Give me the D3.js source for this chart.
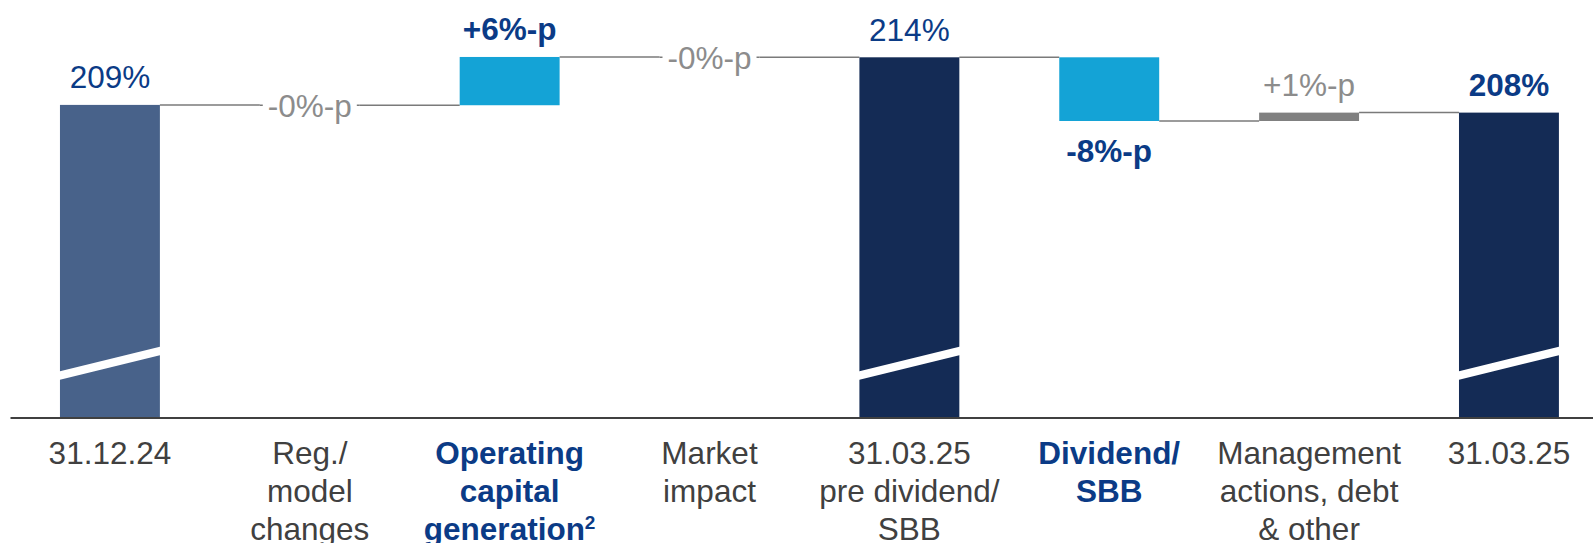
<!DOCTYPE html>
<html>
<head>
<meta charset="utf-8">
<script src="https://cdn.jsdelivr.net/npm/d3@7"></script>
<style>
  html, body { margin: 0; padding: 0; background: #ffffff; overflow: hidden; }
  svg text { font-family: "Liberation Sans", Arial, Helvetica, sans-serif; }
</style>
</head>
<body>
<svg id="chart" width="1593" height="543"></svg>
<script>
// ---- Data: solvency ratio walk (in %, changes in %-points) ----
// Line breaks in a category are marked with "\n", a superscript with "^".
const categories = [
  "31.12.24",
  "Reg./\nmodel\nchanges",
  "Operating\ncapital\ngeneration^2",
  "Market\nimpact",
  "31.03.25\npre dividend/\nSBB",
  "Dividend/\nSBB",
  "Management\nactions, debt\n& other",
  "31.03.25"
];
const stepTypes = ["total", "delta", "delta", "delta", "total", "delta", "delta", "total"];
const stepValues = [208.7, -0.04, 5.76, -0.04, 214.38, -7.6, 1.0, 207.78];
// value at which the (broken) vertical axis starts
const axisStartValue = 171.4;

// ---- Styling ----
const NAVY_TEXT = "#0B3B86";
const GREY_TEXT = "#8C8C8C";
const AXIS_TEXT = "#404040";
const barFills = ["#48628A", null, "#14A3D6", null, "#142B55", "#14A3D6", "#808080", "#142B55"];
const valueBold = [false, false, true, false, false, true, false, true];
const valueColor = [NAVY_TEXT, GREY_TEXT, NAVY_TEXT, GREY_TEXT, NAVY_TEXT, NAVY_TEXT, GREY_TEXT, NAVY_TEXT];
const categoryBold = [false, false, true, false, false, true, false, false];
const FONT_SIZE = 31.5;

const svg = d3.select("#chart");

// ---- Scales ----
const x = d3.scaleBand()
  .domain(categories)
  .range([10, 10 + 8 * 199.86])
  .paddingInner(0.5)
  .paddingOuter(0.25);
const bw = x.bandwidth();

const y = d3.scaleLinear()
  .domain([axisStartValue, 214.38])
  .range([417.5, 57.3]);

// ---- Running totals -> bar extents ----
let level = 0;
const steps = categories.map((c, i) => {
  let lo, hi, after;
  if (stepTypes[i] === "total") {
    lo = axisStartValue; hi = stepValues[i]; after = stepValues[i];
  } else {
    const from = level, to = level + stepValues[i];
    lo = Math.min(from, to); hi = Math.max(from, to); after = to;
  }
  level = after;
  return { cat: c, i, type: stepTypes[i], value: stepValues[i], lo, hi, after, fill: barFills[i] };
});

// ---- Connector lines ----
const gLines = svg.append("g")
  .attr("stroke", "#7A7A7A")
  .attr("stroke-width", 1.5)
  .attr("fill", "none");
steps.forEach((s, i) => {
  if (i < steps.length - 1) {
    gLines.append("line")
      .attr("x1", x(s.cat) + bw).attr("x2", x(steps[i + 1].cat))
      .attr("y1", y(s.after)).attr("y2", y(s.after));
  }
  if (!s.fill) {
    // change too small for a bar: the line runs through the slot
    gLines.append("line")
      .attr("x1", x(s.cat)).attr("x2", x(s.cat) + bw)
      .attr("y1", y(s.after)).attr("y2", y(s.after));
  }
});

// ---- Bars ----
svg.append("g").selectAll("rect")
  .data(steps.filter(s => s.fill))
  .join("rect")
  .attr("x", d => x(d.cat))
  .attr("width", bw)
  .attr("y", d => y(d.hi))
  .attr("height", d => y(d.lo) - y(d.hi))
  .attr("fill", d => d.fill);

// ---- Axis-break bands on the total bars ----
const yb = y(axisStartValue);
svg.append("g").selectAll("polygon")
  .data(steps.filter(s => s.type === "total"))
  .join("polygon")
  .attr("fill", "#ffffff")
  .attr("points", d => {
    const x0 = x(d.cat) - 1, x1 = x(d.cat) + bw + 1;
    return [[x0, yb - 46], [x1, yb - 71], [x1, yb - 62.5], [x0, yb - 37.5]].join(" ");
  });

// ---- Category axis ----
const gAxis = svg.append("g")
  .attr("transform", `translate(0,${yb})`)
  .call(d3.axisBottom(x).tickSize(0).tickSizeOuter(0));
gAxis.attr("font-size", null).attr("font-family", null);
gAxis.select(".domain").attr("stroke", "#404040").attr("stroke-width", 2);
gAxis.selectAll(".tick text").each(function (d, i) {
  const t = d3.select(this)
    .attr("y", null).attr("dy", null)
    .attr("font-size", FONT_SIZE)
    .attr("font-weight", categoryBold[i] ? "bold" : "normal")
    .attr("fill", categoryBold[i] ? NAVY_TEXT : AXIS_TEXT)
    .text(null);
  d.split("\n").forEach((line, k) => {
    const parts = line.split("^");
    const ts = t.append("tspan").attr("x", 0).attr("y", 46.5 + k * 38).text(parts[0]);
    if (parts[1]) {
      ts.append("tspan").attr("font-size", 19).attr("dy", -11).text(parts[1]);
    }
  });
});

// ---- Value labels ----
const fmt = s => {
  if (s.type === "total") return Math.round(s.value) + "%";
  const r = Math.abs(Math.round(s.value));
  return (s.value < 0 ? "-" : "+") + r + "%-p";
};
const gLabels = svg.append("g");
steps.forEach((s, i) => {
  let ly;
  if (s.type === "total") ly = y(s.hi) - 16.5;
  else if (!s.fill) ly = y(s.after) + 11.5;
  else if (s.value >= 0) ly = y(s.hi) - 16.7;
  else ly = y(s.lo) + 41;
  const cx = x(s.cat) + bw / 2;
  const txt = gLabels.append("text")
    .attr("x", cx).attr("y", ly)
    .attr("text-anchor", "middle")
    .attr("font-size", FONT_SIZE)
    .attr("font-weight", valueBold[i] ? "bold" : "normal")
    .attr("fill", valueColor[i])
    .text(fmt(s));
  if (!s.fill) {
    const bb = txt.node().getBBox();
    gLabels.insert("rect", () => txt.node())
      .attr("x", bb.x - 5).attr("width", bb.width + 10)
      .attr("y", bb.y).attr("height", bb.height)
      .attr("fill", "#ffffff");
  }
});
</script>
</body>
</html>
